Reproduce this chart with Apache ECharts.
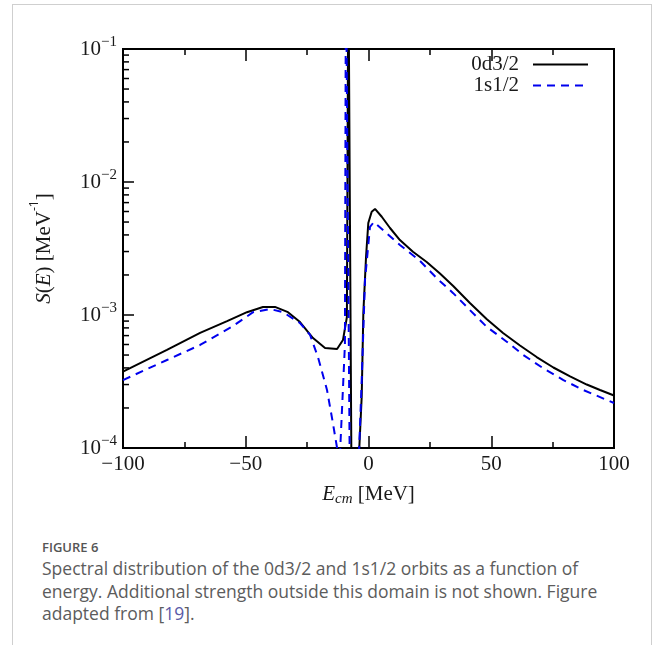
<!DOCTYPE html>
<html>
<head>
<meta charset="utf-8">
<script src="https://cdn.jsdelivr.net/npm/echarts@6/dist/echarts.min.js"></script>
<style>
  html, body { margin: 0; padding: 0; background: #fff; }
  #frame {
    position: absolute; left: 12px; top: 4px; width: 640px; height: 700px;
    border: 1px solid #cfcfcf; box-sizing: border-box;
  }
  #chart { position: absolute; left: 0; top: 0; width: 656px; height: 520px; }
  #caption {
    position: absolute; left: 42px; top: 537px; width: 572px;
    font-family: "Open Sans", sans-serif; color: #5c5c5c;
  }
  #caption .fig { font-size: 13px; font-weight: 600; color: #555; line-height: 20px; }
  #caption .txt { font-size: 17.5px; line-height: 22.5px; }
  #caption a { color: #5a5aa8; text-decoration: none; }
</style>
</head>
<body>
<div id="frame"></div>
<div id="chart"></div>
<div id="caption">
  <div class="fig">FIGURE 6</div>
  <div class="txt">Spectral distribution of the 0d3/2 and 1s1/2 orbits as a function of energy. Additional strength outside this domain is not shown. Figure adapted from [<a>19</a>].</div>
</div>
<script>
// 0d3/2 (solid black)
const e0d = [-100, -82.1, -68.6, -57.6, -49.5, -43.0, -38.1, -32.8, -27.9, -22.6, -17.7, -12.8, -10.4, -8.8,
  -8.2, -7.6, -7.0, -6.6, -4.0, -3.75, -2.77, -2.1, -1.0, -0.08, 1.3, 2.65, 5.4, 8.76, 12.8, 18.1, 23.7,
  29.1, 34.5, 41.3, 48.1, 54.8, 61.7, 68.5, 75.3, 82.1, 88.9, 94.3, 100];
const s0d = [3.75e-4, 5.46e-4, 7.33e-4, 9.0e-4, 1.05e-3, 1.15e-3, 1.15e-3, 1.05e-3, 8.85e-4, 6.71e-4, 5.65e-4, 5.55e-4, 6.48e-4, 9.66e-4,
  0.5, 0.5, 1e-4, 1e-6, 1e-6, 1e-4, 2.43e-4, 1.04e-3, 2.74e-3, 4.92e-3, 5.98e-3, 6.27e-3, 5.48e-3, 4.51e-3, 3.66e-3, 2.99e-3, 2.50e-3,
  2.05e-3, 1.65e-3, 1.23e-3, 9.33e-4, 7.33e-4, 5.9e-4, 4.83e-4, 4.03e-4, 3.45e-4, 3.0e-4, 2.73e-4, 2.48e-4];

// 1s1/2 (dashed blue)
const e1s = [-100, -82.1, -68.6, -55.2, -47.0, -40.1, -34.8, -27.9, -23.8, -20.6, -16.9, -14.5, -12.8, -12.3, -11.9, -11.5,
  -9.6, -9.2, -8.6, -7.7, -7.3, -4.1, -3.8, -2.77, -1.43, 0.6, 2.2, 5.9, 12.8, 21, 27.8, 34.5, 41.3, 48.1,
  56.3, 63.1, 71.2, 79.4, 87.5, 97, 100];
const s1s = [3.24e-4, 4.59e-4, 5.95e-4, 8.26e-4, 1.05e-3, 1.11e-3, 1.05e-3, 8.7e-4, 7.08e-4, 4.83e-4, 2.73e-4, 1.54e-4, 1e-4, 1e-6, 1e-6, 1e-4,
  6e-4, 0.5, 0.5, 1e-4, 1e-6, 1e-6, 1e-4, 3.24e-4, 1.83e-3, 4.59e-3, 5.0e-3, 4.35e-3, 3.36e-3, 2.55e-3, 1.89e-3, 1.46e-3, 1.09e-3, 8.17e-4,
  6.3e-4, 5.0e-4, 3.97e-4, 3.24e-4, 2.73e-4, 2.3e-4, 2.18e-4];

// minor ticks on the log axis: 2..9 in each decade
const yMinor = [];
[1e-4, 1e-3, 1e-2].forEach(d => { for (let k = 2; k <= 9; k++) yMinor.push(k * d); });

const serif = '"Liberation Serif", "DejaVu Serif", serif';
const ink = '#1a1a1a';
const chart = echarts.init(document.getElementById('chart'));

const tickStyle = { color: '#000', width: 1.5 };

const option = {
  animation: false,
  grid: { left: 123, right: 42, top: 49, height: 399, show: true, borderColor: '#000', borderWidth: 2, backgroundColor: 'transparent' },
  legend: {
    right: 62, top: 49, orient: 'vertical', align: 'right', itemWidth: 55, itemHeight: 14, itemGap: 0,
    itemStyle: { opacity: 0 },
    textStyle: { fontFamily: serif, fontSize: 21, color: ink, lineHeight: 18, padding: [0, 9, 0, 0] },
    data: ['0d3/2', '1s1/2']
  },
  xAxis: [{
    type: 'value', min: -100, max: 100, interval: 50,
    axisLine: { show: true, onZero: false, lineStyle: { color: '#000', width: 2 } },
    axisTick: { show: true, inside: true, length: 12, lineStyle: tickStyle },
    minorTick: { show: true, splitNumber: 2, length: 6, lineStyle: tickStyle },
    splitLine: { show: false },
    axisLabel: { fontFamily: serif, fontSize: 21, color: ink, margin: 6, formatter: v => (v < 0 ? '\u2212' + (-v) : '' + v) },
    name: '{i|E}{sub|cm}{r| [MeV]}', nameLocation: 'middle', nameGap: 33,
    nameTextStyle: {
      rich: {
        i: { fontFamily: serif, fontStyle: 'italic', fontSize: 21, color: ink, lineHeight: 26 },
        sub: { fontFamily: serif, fontStyle: 'italic', fontSize: 15, color: ink, lineHeight: 26, verticalAlign: 'bottom' },
        r: { fontFamily: serif, fontSize: 21, color: ink, lineHeight: 26 }
      }
    }
  }, {
    type: 'value', position: 'top', min: -100, max: 100, interval: 50,
    axisLine: { show: false, onZero: false },
    axisTick: { show: true, inside: true, length: 12, lineStyle: tickStyle },
    minorTick: { show: true, splitNumber: 2, length: 6, lineStyle: tickStyle },
    splitLine: { show: false }, axisLabel: { show: false }
  }],
  yAxis: {
    type: 'log', logBase: 10, min: 1e-4, max: 1e-1,
    axisLine: { show: true, onZero: false, lineStyle: { color: '#000', width: 2 } },
    axisTick: { show: true, inside: true, length: 11, lineStyle: tickStyle },
    splitLine: { show: false },
    axisLabel: {
      margin: 6,
      formatter: v => '{b|10}{s|\u2212' + Math.round(-Math.log10(v)) + '}',
      rich: {
        b: { fontFamily: serif, fontSize: 21, color: ink, lineHeight: 28 },
        s: { fontFamily: serif, fontSize: 15, color: ink, lineHeight: 28, verticalAlign: 'top' }
      }
    },
    name: '{i|S}{r|(}{i|E}{r|) [MeV}{sp|-1}{r|]}', nameLocation: 'middle', nameGap: 68, nameRotate: 90,
    nameTextStyle: {
      rich: {
        i: { fontFamily: serif, fontStyle: 'italic', fontSize: 21, color: ink, lineHeight: 26, verticalAlign: 'bottom' },
        r: { fontFamily: serif, fontSize: 21, color: ink, lineHeight: 26, verticalAlign: 'bottom' },
        sp: { fontFamily: '"Open Sans", sans-serif', fontSize: 12, color: ink, lineHeight: 26, verticalAlign: 'top' }
      }
    }
  },
  series: [{
    name: '0d3/2', type: 'line', symbol: 'none', clip: true,
    data: e0d.map((e, i) => [e, s0d[i]]),
    lineStyle: { color: '#000', width: 2 }, itemStyle: { color: '#000' }, z: 3
  }, {
    name: '1s1/2', type: 'line', symbol: 'none', clip: true,
    data: e1s.map((e, i) => [e, s1s[i]]),
    lineStyle: { color: '#0000ee', width: 2, type: [8, 6] }, itemStyle: { color: '#0000ee' }, z: 4
  }, {
    // minor log ticks placed through the y scale
    name: 'minor', type: 'custom', silent: true, clip: false, z: 5,
    data: yMinor.map(v => [-100, v]),
    renderItem: (params, api) => {
      const p = api.coord([api.value(0), api.value(1)]);
      return { type: 'line', shape: { x1: p[0], y1: p[1], x2: p[0] + 6, y2: p[1] }, style: { stroke: '#000', lineWidth: 1.5 } };
    }
  }]
};
chart.setOption(option);
</script>
</body>
</html>
